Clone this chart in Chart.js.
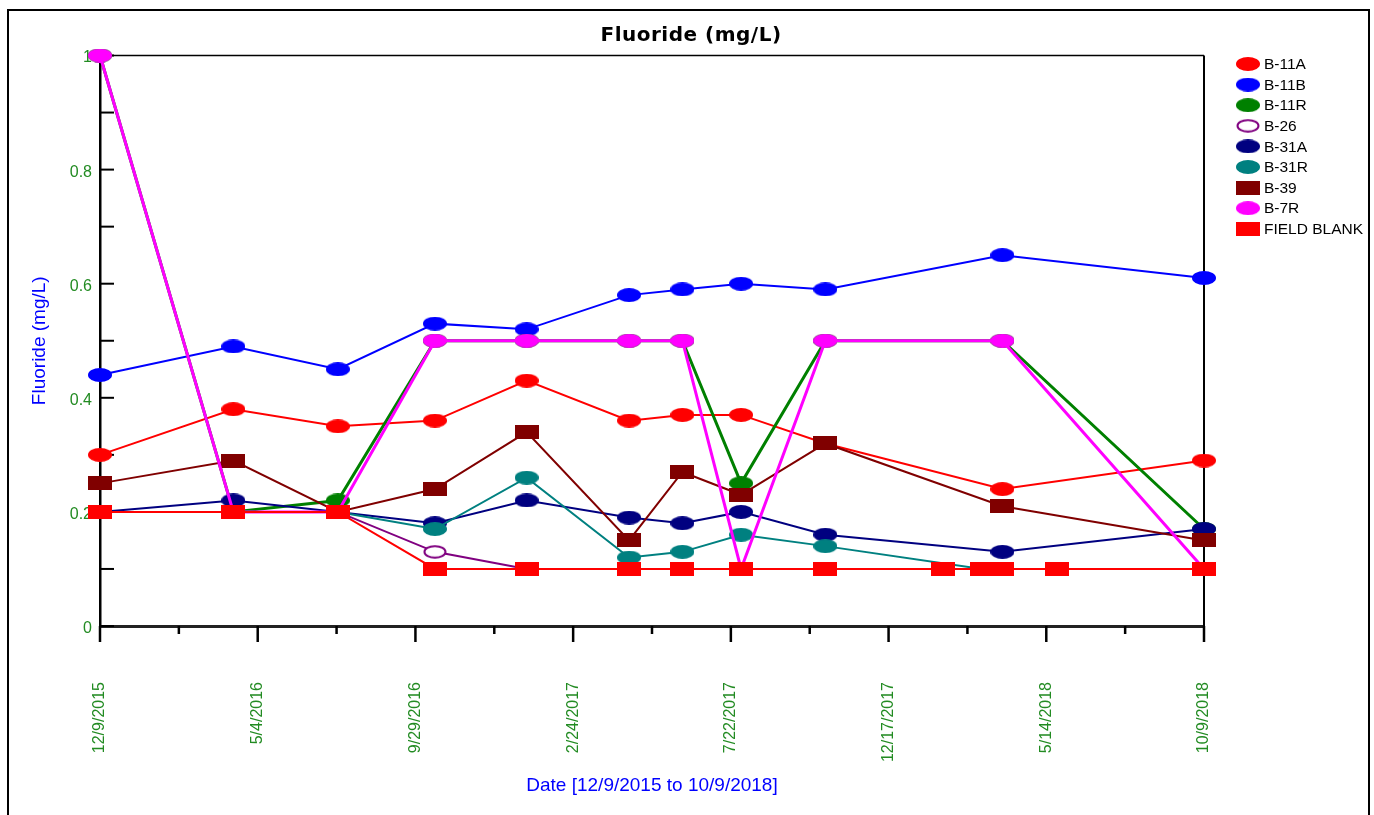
<!DOCTYPE html>
<html>
<head>
<meta charset="utf-8">
<title>Fluoride (mg/L)</title>
<script src="https://cdn.jsdelivr.net/npm/chart.js@4.4.1/dist/chart.umd.min.js"></script>
<style>
  html, body { margin: 0; padding: 0; background: #fff; }
</style>
</head>
<body>
<canvas id="chart" width="1374" height="815"></canvas>
<script>
// sample dates (x) and the date axis range
const axisStart = '2015-12-09';
const axisEnd = '2018-10-09';
const sampleDates = ['2015-12-09', '2016-04-12', '2016-07-19', '2016-10-18', '2017-01-12', '2017-04-18',
  '2017-06-07', '2017-08-01', '2017-10-19', '2018-02-06', '2018-03-15', '2018-04-03', '2018-05-24', '2018-10-09'];
const xTickLabels = ['12/9/2015', '5/4/2016', '9/29/2016', '2/24/2017', '7/22/2017', '12/17/2017', '5/14/2018', '10/9/2018'];
const yTickLabels = ['0', '0.2', '0.4', '0.6', '0.8', '1'];

// Fluoride values (mg/L), one per sample date, null = no sample
const seriesNames = ['B-11A', 'B-11B', 'B-11R', 'B-26', 'B-31A', 'B-31R', 'B-39', 'B-7R', 'FIELD BLANK'];
const b11a = [0.30, 0.38, 0.35, 0.36, 0.43, 0.36, 0.37, 0.37, 0.32, null, null, 0.24, null, 0.29];
const b11b = [0.44, 0.49, 0.45, 0.53, 0.52, 0.58, 0.59, 0.60, 0.59, null, null, 0.65, null, 0.61];
const b11r = [1.00, 0.20, 0.22, 0.50, 0.50, 0.50, 0.50, 0.25, 0.50, null, null, 0.50, null, 0.17];
const b26 = [0.20, 0.20, 0.20, 0.13, 0.10, null, null, null, null, null, null, null, null, null];
const b31a = [0.20, 0.22, 0.20, 0.18, 0.22, 0.19, 0.18, 0.20, 0.16, null, null, 0.13, null, 0.17];
const b31r = [null, null, 0.20, 0.17, 0.26, 0.12, 0.13, 0.16, 0.14, null, 0.10, null, null, null];
const b39 = [0.25, 0.29, 0.20, 0.24, 0.34, 0.15, 0.27, 0.23, 0.32, null, null, 0.21, null, 0.15];
const b7r = [1.00, 0.20, 0.20, 0.50, 0.50, 0.50, 0.50, 0.10, 0.50, null, null, 0.50, null, 0.10];
const fieldBlank = [0.20, 0.20, 0.20, 0.10, 0.10, 0.10, 0.10, 0.10, 0.10, 0.10, 0.10, 0.10, 0.10, 0.10];
const seriesValues = [b11a, b11b, b11r, b26, b31a, b31r, b39, b7r, fieldBlank];

// styles
const seriesColors = ['#ff0000', '#0000ff', '#008000', '#800080', '#000080', '#008080', '#800000', '#ff00ff', '#ff0000'];
const seriesMarkers = ['ellipse', 'ellipse', 'ellipse', 'ring', 'ellipse', 'ellipse', 'rect', 'ellipse', 'rect'];
const seriesWidths = [2, 2, 3, 2, 2, 2, 2, 3, 2];
const tickGreen = '#228b22';

const dayMs = 86400000;
const dayOf = d => (Date.parse(d) - Date.parse(axisStart)) / dayMs;
const axisDays = dayOf(axisEnd);

function markerImage(shape, color) {
  const c = document.createElement('canvas');
  c.width = 24;
  c.height = 14;
  const g = c.getContext('2d');
  if (shape === 'rect') {
    g.fillStyle = color;
    g.fillRect(0, 0, 24, 14);
  } else if (shape === 'ring') {
    g.beginPath();
    g.ellipse(12, 7, 10.5, 5.8, 0, 0, Math.PI * 2);
    g.fillStyle = '#fff';
    g.fill();
    g.lineWidth = 2;
    g.strokeStyle = color;
    g.stroke();
  } else {
    g.beginPath();
    g.ellipse(12, 7, 12, 7, 0, 0, Math.PI * 2);
    g.fillStyle = color;
    g.fill();
  }
  return c;
}
const markerImages = seriesNames.map((n, i) => markerImage(seriesMarkers[i], seriesColors[i]));

const datasets = seriesNames.map((name, i) => ({
  label: name,
  data: sampleDates
    .map((d, j) => ({ x: dayOf(d), y: seriesValues[i][j] }))
    .filter(p => p.y !== null),
  borderColor: seriesColors[i],
  backgroundColor: seriesColors[i],
  borderWidth: seriesWidths[i],
  pointStyle: markerImages[i],
  pointRadius: 7,
  pointHoverRadius: 7,
  tension: 0,
  clip: false,
  order: seriesNames.length - i, // last series drawn on top
}));

// frame, title, inward/outward tick marks and legend
const decor = {
  id: 'decor',
  beforeDraw(chart) {
    const { ctx } = chart;
    ctx.save();
    ctx.fillStyle = '#fff';
    ctx.fillRect(0, 0, chart.width, chart.height);
    ctx.strokeStyle = '#000';
    ctx.lineWidth = 2;
    ctx.strokeRect(8, 10, 1361, 830);
    ctx.font = 'bold 20px "DejaVu Sans", Verdana, sans-serif';
    ctx.letterSpacing = '0.5px';
    ctx.fillStyle = '#000';
    ctx.textAlign = 'center';
    ctx.textBaseline = 'alphabetic';
    ctx.fillText('Fluoride (mg/L)', 691, 41);
    ctx.restore();
  },
  beforeDatasetsDraw(chart) {
    const { ctx, chartArea: a, scales: { x, y } } = chart;
    const line = (x1, y1, x2, y2) => {
      ctx.beginPath();
      ctx.moveTo(x1, y1);
      ctx.lineTo(x2, y2);
      ctx.stroke();
    };
    ctx.save();
    ctx.strokeStyle = '#000';
    ctx.lineWidth = 1.5;
    line(a.left, a.top, a.right, a.top);
    ctx.lineWidth = 2;
    line(a.right, a.top, a.right, a.bottom);
    ctx.lineWidth = 2;
    y.ticks.forEach(t => {
      const py = y.getPixelForValue(t.value);
      line(a.left, py, a.left + 14, py);
    });
    ctx.lineWidth = 2.5;
    x.ticks.forEach((t, i) => {
      const px = x.getPixelForValue(t.value);
      line(px, a.bottom, px, a.bottom + (i % 2 === 0 ? 16 : 8));
    });
    ctx.restore();
  },
  afterDraw(chart) {
    const { ctx } = chart;
    ctx.save();
    ctx.font = '15.5px "Liberation Sans", Arial, sans-serif';
    ctx.fillStyle = '#000';
    ctx.textAlign = 'left';
    ctx.textBaseline = 'middle';
    chart.data.datasets.forEach((ds, i) => {
      const cy = 64 + i * 20.6;
      const img = ds.pointStyle;
      ctx.drawImage(img, 1236, cy - img.height / 2);
      ctx.fillText(ds.label, 1264, cy + 1);
    });
    ctx.restore();
  }
};

Chart.defaults.font.family = '"Liberation Sans", Arial, sans-serif';

new Chart(document.getElementById('chart').getContext('2d'), {
  type: 'line',
  data: { datasets },
  options: {
    responsive: false,
    animation: false,
    devicePixelRatio: 1,
    layout: { padding: { top: 55.5, right: 170, left: 0, bottom: 0 } },
    plugins: {
      legend: { display: false },
      title: { display: false },
      tooltip: { enabled: false },
    },
    scales: {
      x: {
        type: 'linear',
        min: 0,
        max: axisDays,
        afterFit: s => { s.height = 189; },
        afterBuildTicks: s => {
          s.ticks = Array.from({ length: 15 }, (_, i) => ({ value: i * axisDays / 14 }));
        },
        grid: { display: true, drawOnChartArea: false, drawTicks: false },
        border: { display: true, color: '#222', width: 3 },
        ticks: {
          autoSkip: false,
          minRotation: 90,
          maxRotation: 90,
          padding: 56,
          color: tickGreen,
          font: { size: 16 },
          callback: (v, i) => (i % 2 === 0 ? xTickLabels[i / 2] : ''),
        },
        title: {
          display: true,
          text: 'Date [12/9/2015 to 10/9/2018]',
          color: '#0000ff',
          font: { size: 19 },
          padding: { top: 0, bottom: 17.4 },
        },
      },
      y: {
        min: 0,
        max: 1,
        afterFit: s => { s.width = 100; },
        grid: { display: true, drawOnChartArea: false, drawTicks: false },
        border: { display: true, color: '#000', width: 2.5 },
        ticks: {
          stepSize: 0.1,
          padding: 8,
          labelOffset: 2.5,
          color: tickGreen,
          font: { size: 16 },
          callback: v => {
            const k = Math.round(v * 10);
            return k % 2 === 0 ? yTickLabels[k / 2] : '';
          },
        },
        title: {
          display: true,
          text: 'Fluoride (mg/L)',
          color: '#0000ff',
          font: { size: 19 },
          padding: { top: 28.6, bottom: 0 },
        },
      },
    },
  },
  plugins: [decor],
});
</script>
</body>
</html>
